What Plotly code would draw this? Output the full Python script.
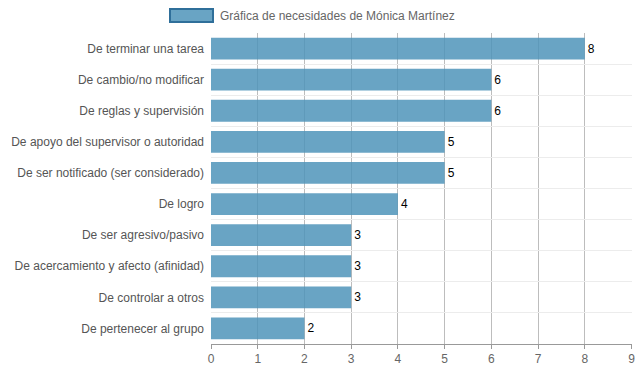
import plotly.graph_objects as go

categories = [
    "De terminar una tarea",
    "De cambio/no modificar",
    "De reglas y supervisión",
    "De apoyo del supervisor o autoridad",
    "De ser notificado (ser considerado)",
    "De logro",
    "De ser agresivo/pasivo",
    "De acercamiento y afecto (afinidad)",
    "De controlar a otros",
    "De pertenecer al grupo",
]
values = [8, 6, 6, 5, 5, 4, 3, 3, 3, 2]
series_name = "Gráfica de necesidades de Mónica Martínez"
x_ticks = list(range(0, 10))

fig = go.Figure(go.Bar(
    x=values,
    y=categories,
    orientation="h",
    marker=dict(color="rgba(79,148,186,0.85)", line=dict(width=0)),
    width=0.7,
    text=[str(v) for v in values],
    textposition="outside",
    textfont=dict(color="#000", size=12, family="Liberation Sans, Arial, sans-serif"),
    cliponaxis=False,
    name=series_name,
    showlegend=False,
))

fig.update_layout(
    width=639, height=372,
    margin=dict(l=211, r=7, t=33, b=28, autoexpand=False),
    plot_bgcolor="white", paper_bgcolor="white",
    font=dict(family="Liberation Sans, Arial, sans-serif", size=12, color="#666"),
    bargap=0.3,
)
fig.update_xaxes(
    range=[0, 9.01], tickvals=x_ticks, showgrid=True, gridcolor="#bdbdbd", gridwidth=1,
    zeroline=False, showline=True, linecolor="#999", ticks="outside", ticklen=4, tickcolor="#999",
    tickfont=dict(size=12, color="#666"), automargin=False,
)
fig.update_yaxes(
    categoryorder="array", categoryarray=categories, autorange="reversed",
    tickson="boundaries", showgrid=True, gridcolor="#ececec", gridwidth=1,
    ticks="", showline=False, tickfont=dict(size=12, color="#555"), ticklabelstandoff=6,
    automargin=False,
)

# legend drawn manually
fig.add_shape(type="rect", xref="paper", yref="paper",
              x0=(170 - 211) / 421, x1=(213 - 211) / 421,
              y0=(344 - 22) / 311, y1=(344 - 9) / 311,
              fillcolor="rgba(79,148,186,0.85)", line=dict(color="#2f6f9a", width=2))
fig.add_annotation(xref="paper", yref="paper", x=(218 - 211) / 421, y=(344 - 15.5) / 311,
                   text=series_name, showarrow=False, xanchor="left", yanchor="middle",
                   font=dict(size=12, color="#666"))

fig.write_html("out.html", config={"displayModeBar": False},
               post_script="document.body.style.margin='0';document.body.style.overflow='hidden';")
